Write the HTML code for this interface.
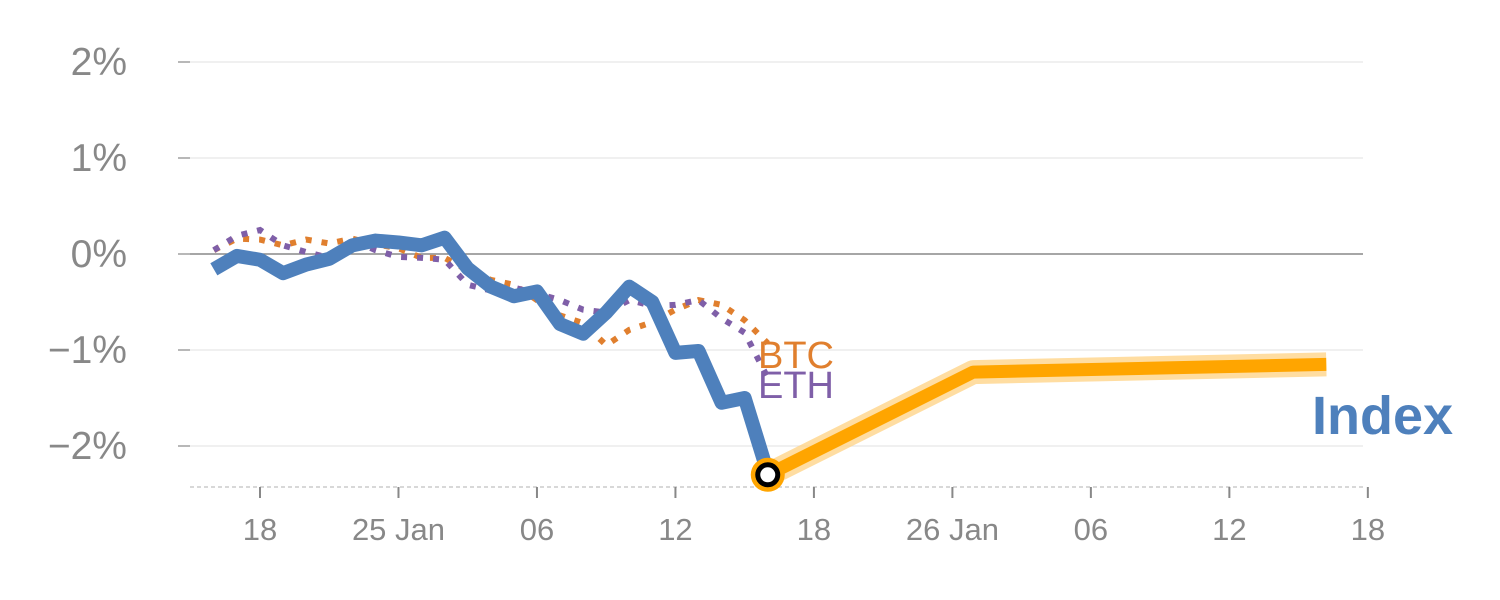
<!DOCTYPE html>
<html><head><meta charset="utf-8"><style>
body{margin:0;background:#fff}
svg{display:block;font-family:"Liberation Sans",sans-serif}
</style></head><body>
<svg id="c" width="1500" height="600"></svg>
<script>
const yTicks=[2,1,0,-1,-2];
const yTickLabels=["2%","1%","0%","\u22121%","\u22122%"];
const xTickIdx=[2,8,14,20,26,32,38,44,50];
const xTickLabels=["18","25 Jan","06","12","18","26 Jan","06","12","18"];
const indexVals=[-0.16,-0.02,-0.06,-0.2,-0.11,-0.05,0.09,0.14,0.12,0.09,0.17,-0.15,-0.34,-0.44,-0.39,-0.73,-0.83,-0.61,-0.34,-0.5,-1.03,-1.01,-1.55,-1.5,-2.28];
const btcVals=[0.04,0.16,0.15,0.09,0.15,0.11,0.16,0.1,0.06,-0.04,-0.04,-0.17,-0.27,-0.32,-0.48,-0.64,-0.72,-0.95,-0.79,-0.71,-0.58,-0.48,-0.53,-0.69,-0.93];
const ethVals=[0.04,0.19,0.25,0.09,0.02,-0.04,0.15,0.04,-0.03,-0.04,-0.06,-0.32,-0.38,-0.35,-0.41,-0.48,-0.58,-0.61,-0.48,-0.54,-0.53,-0.48,-0.67,-0.82,-1.29];
const fcIdx=[24,32.9,48.2];
const fcVals=[-2.3,-1.23,-1.15];

const X=i=>260+(i-2)*23.08;
const Y=v=>254-96*v;
const svg=document.getElementById('c');
const NS="http://www.w3.org/2000/svg";
function mk(tag,attrs,parent){const e=document.createElementNS(NS,tag);for(const k in attrs)e.setAttribute(k,attrs[k]);(parent||svg).appendChild(e);return e;}

yTicks.forEach((v,k)=>{
  const g=mk('line',{x1:190,x2:1363,y1:Y(v),y2:Y(v),stroke:v===0?'#888':'#e6e6e6','stroke-width':v===0?1.5:1.2});
  
  
  const t=mk('line',{x1:178,x2:190,y1:Y(v),y2:Y(v),stroke:'#888','stroke-width':1.2});
  
  
  const l=mk('text',{x:127,y:Y(v)+13,'text-anchor':'end','font-size':39,fill:'#888'});
  l.textContent=yTickLabels[k];
  
  
});
const ax=mk('line',{x1:190,x2:1363,y1:487,y2:487,stroke:'#ccc','stroke-width':1.5,'stroke-dasharray':'4 3'});


xTickIdx.forEach((i,k)=>{
  const t=mk('line',{x1:X(i),x2:X(i),y1:487,y2:498,stroke:'#888','stroke-width':2});
  
  
  const l=mk('text',{x:X(i),y:540,'text-anchor':'middle','font-size':31,fill:'#888'});
  l.textContent=xTickLabels[k];
  
  
});
const pts=(vals,off)=>vals.map((v,i)=>X(i+(off||0))+','+Y(v)).join(' ');
const btc=mk('polyline',{points:pts(btcVals),fill:'none',stroke:'#e07f2e','stroke-width':6,'stroke-dasharray':'6 10'});


const eth=mk('polyline',{points:pts(ethVals),fill:'none',stroke:'#7f5fa8','stroke-width':6,'stroke-dasharray':'6 10'});


const idx=mk('polyline',{points:pts(indexVals),fill:'none',stroke:'#4e80bc','stroke-width':14,'stroke-linejoin':'round'});


const fp=fcIdx.map((i,k)=>X(i)+','+Y(fcVals[k])).join(' ');
const fb=mk('polyline',{points:fp,fill:'none',stroke:'#ffd58a','stroke-width':24,'stroke-linejoin':'round','opacity':0.8});


const fl=mk('polyline',{points:fp,fill:'none',stroke:'#ffa500','stroke-width':13,'stroke-linejoin':'round'});


const m1=mk('circle',{cx:X(fcIdx[0]),cy:Y(fcVals[0]),r:17,fill:'#ffa500'});


mk('circle',{cx:X(fcIdx[0]),cy:Y(fcVals[0]),r:10,fill:'#fff',stroke:'#000','stroke-width':5});
const lb=mk('text',{x:758,y:368,'font-size':38,fill:'#e07f2e'});lb.textContent='BTC';


const le=mk('text',{x:758,y:398,'font-size':38,fill:'#7f5fa8'});le.textContent='ETH';


const li=mk('text',{x:1312,y:434,'font-size':54,'font-weight':'bold',fill:'#4e80bc'});li.textContent='Index';


</script>
</body></html>
